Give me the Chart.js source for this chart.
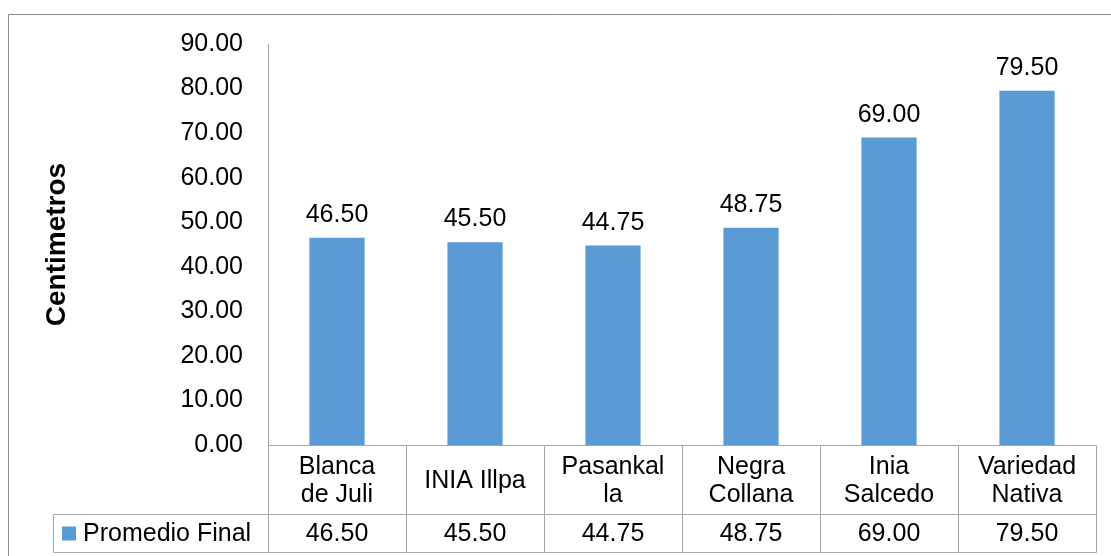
<!DOCTYPE html>
<html>
<head>
<meta charset="utf-8">
<script src="https://cdn.jsdelivr.net/npm/chart.js@4/dist/chart.umd.min.js"></script>
<style>
  html, body { margin: 0; padding: 0; background: #fff; }
  canvas { display: block; }
</style>
</head>
<body>
<canvas id="chart" width="1111" height="556"></canvas>
<script>
// --- data ---
const categories = [['Blanca', 'de Juli'], ['INIA Illpa'], ['Pasankal', 'la'], ['Negra', 'Collana'], ['Inia', 'Salcedo'], ['Variedad', 'Nativa']];
const seriesName = 'Promedio Final';
const promedioFinal = [46.50, 45.50, 44.75, 48.75, 69.00, 79.50];
const yTicks = [0, 10, 20, 30, 40, 50, 60, 70, 80, 90];

const FONT = '"Liberation Sans", Arial, sans-serif';
const BAR = '#5b9bd5';
const LINE = '#a6a6a6';

// outer frame of the chart object
const framePlugin = {
  id: 'frame',
  beforeDraw(chart) {
    const c = chart.ctx;
    c.save();
    c.strokeStyle = '#8c8c8c';
    c.lineWidth = 1;
    c.beginPath();
    c.moveTo(8.5, chart.height);
    c.lineTo(8.5, 14.5);
    c.lineTo(chart.width, 14.5);
    c.stroke();
    c.restore();
  }
};

// value labels above bars
const valueLabels = {
  id: 'valueLabels',
  afterDatasetsDraw(chart) {
    const c = chart.ctx;
    const meta = chart.getDatasetMeta(0);
    c.save();
    c.font = '25px ' + FONT;
    c.fillStyle = '#000';
    c.textAlign = 'center';
    c.textBaseline = 'alphabetic';
    meta.data.forEach((bar, i) => {
      c.fillText(promedioFinal[i].toFixed(2), bar.x, bar.y - 16);
    });
    c.restore();
  }
};

// data table under the plot (Excel style)
const dataTable = {
  id: 'dataTable',
  afterDraw(chart) {
    const c = chart.ctx;
    const x = chart.scales.x;
    const area = chart.chartArea;
    const half = (x.getPixelForValue(1) - x.getPixelForValue(0)) / 2;
    const left = Math.round(x.getPixelForValue(0) - half) + 0.5;
    const right = Math.round(x.getPixelForValue(categories.length - 1) + half) + 0.5;
    const top = Math.round(area.bottom) + 0.5;
    const mid = top + 69;
    const bottom = top + 107;
    const legendLeft = 53.5;

    c.save();
    c.strokeStyle = LINE;
    c.lineWidth = 1;
    c.beginPath();
    // horizontals
    c.moveTo(left, top); c.lineTo(right, top);
    c.moveTo(legendLeft, mid); c.lineTo(right, mid);
    c.moveTo(legendLeft, bottom); c.lineTo(right, bottom);
    // verticals
    for (let i = 0; i <= categories.length; i++) {
      const px = Math.round(x.getPixelForValue(i) - half) + 0.5;
      c.moveTo(px, top); c.lineTo(px, bottom);
    }
    c.moveTo(legendLeft, mid); c.lineTo(legendLeft, bottom);
    c.stroke();

    c.font = '25px ' + FONT;
    c.fillStyle = '#000';
    c.textAlign = 'center';
    c.textBaseline = 'middle';
    const lh = 28;
    categories.forEach((lines, i) => {
      const cx = x.getPixelForValue(i);
      const cy = (top + mid) / 2 + 1;
      lines.forEach((t, k) => {
        c.fillText(t, cx, cy + (k - (lines.length - 1) / 2) * lh);
      });
      c.fillText(promedioFinal[i].toFixed(2), cx, (mid + bottom) / 2 + 1);
    });

    // legend key
    const ky = (mid + bottom) / 2;
    c.fillStyle = BAR;
    c.fillRect(62, ky - 7, 14, 14);
    c.fillStyle = '#000';
    c.textAlign = 'left';
    c.fillText(seriesName, 83, ky + 1);
    c.restore();
  }
};

new Chart(document.getElementById('chart'), {
  type: 'bar',
  data: {
    labels: categories,
    datasets: [{
      label: seriesName,
      data: promedioFinal,
      backgroundColor: BAR,
      borderWidth: 0,
      categoryPercentage: 1,
      barPercentage: 0.4
    }]
  },
  options: {
    responsive: false,
    animation: false,
    events: [],
    layout: { padding: { top: 44, right: 15, bottom: 111, left: 0 } },
    plugins: {
      legend: { display: false },
      title: { display: false },
      tooltip: { enabled: false }
    },
    scales: {
      x: {
        display: false,
        offset: true
      },
      y: {
        min: 0,
        max: 90,
        afterBuildTicks(scale) {
          scale.ticks = yTicks.map(v => ({ value: v }));
        },
        afterFit(scale) {
          scale.width = 268;
        },
        grid: { display: false, drawTicks: false },
        border: { display: true, color: LINE, width: 1 },
        ticks: {
          padding: 25,
          color: '#000',
          font: { family: FONT, size: 25 },
          callback: v => Number(v).toFixed(2)
        },
        title: {
          display: true,
          text: 'Centimetros',
          color: '#000',
          font: { family: FONT, size: 28, weight: 'bold' },
          padding: { top: 40, bottom: 0 }
        }
      }
    }
  },
  plugins: [framePlugin, valueLabels, dataTable]
});
</script>
</body>
</html>
